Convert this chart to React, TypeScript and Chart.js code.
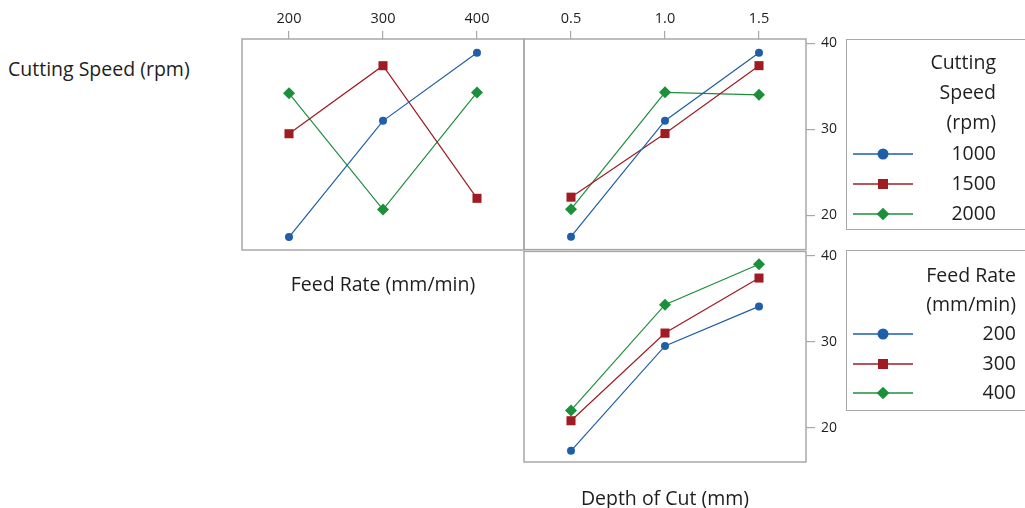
import React, { useEffect, useRef } from "react";
import { Chart, registerables } from "chart.js";
Chart.register(...registerables);

// x levels
const feedRates = [200, 300, 400];
const depths = [0.5, 1.0, 1.5];
const speedLabels = ["1000", "1500", "2000"];
const feedLabels = ["200", "300", "400"];
const yTicks = [20, 30, 40];

// mean response vs feed rate, per cutting speed
const feedSpeed1000 = [17.5, 31.0, 38.9];
const feedSpeed1500 = [29.5, 37.4, 22.0];
const feedSpeed2000 = [34.2, 20.7, 34.3];
// mean response vs depth of cut, per cutting speed
const depthSpeed1000 = [17.5, 31.0, 38.9];
const depthSpeed1500 = [22.1, 29.5, 37.4];
const depthSpeed2000 = [20.7, 34.3, 34.0];
// mean response vs depth of cut, per feed rate
const depthFeed200 = [17.3, 29.5, 34.1];
const depthFeed300 = [20.8, 31.0, 37.4];
const depthFeed400 = [22.0, 34.3, 39.0];

const COLORS = ["#1f5ea8", "#9f1c22", "#1c8f3b"];
const STYLES: any[] = ["circle", "rect", "rectRot"];
const RADII = [4, 6.4, 6];
const FONT = "'Open Sans', 'Noto Sans', sans-serif";
const BORDER = "#a8a8a8";
const TEXT = "#1e1e1e";

const boxPlugin = {
  id: "boxBorder",
  beforeDatasetsDraw(chart: any) {
    const { ctx, chartArea: a } = chart;
    ctx.save();
    ctx.strokeStyle = BORDER;
    ctx.lineWidth = 1.5;
    ctx.strokeRect(a.left, a.top, a.right - a.left, a.bottom - a.top);
    ctx.restore();
  },
};

type PanelProps = {
  left: number; top: number; width: number; height: number;
  padding: { left: number; right: number; top: number; bottom: number };
  xs: number[]; xMin: number; xMax: number; decimals: number;
  series: number[][]; labels: string[];
  showX: boolean; showY: boolean;
};

function Panel(p: PanelProps) {
  const ref = useRef<HTMLCanvasElement>(null);
  useEffect(() => {
    if (!ref.current) return;
    const chart = new Chart(ref.current, {
      type: "line",
      data: {
        datasets: p.series.map((s, i) => ({
          label: p.labels[i],
          data: s.map((v, j) => ({ x: p.xs[j], y: v })),
          borderColor: COLORS[i],
          backgroundColor: COLORS[i],
          borderWidth: 1.2,
          pointStyle: STYLES[i],
          pointRadius: RADII[i],
          pointBorderWidth: 0,
          tension: 0,
          clip: false as any,
        })),
      },
      options: {
        animation: false,
        responsive: false,
        maintainAspectRatio: false,
        layout: { padding: p.padding, autoPadding: false },
        plugins: { legend: { display: false }, tooltip: { enabled: false } },
        scales: {
          x: {
            type: "linear",
            position: "top",
            display: p.showX,
            min: p.xMin,
            max: p.xMax,
            afterBuildTicks: (s: any) => { s.ticks = p.xs.map((v) => ({ value: v })); },
            afterFit: (s: any) => { if (p.showX) s.height = 39 - p.padding.top; },
            grid: { drawOnChartArea: false, tickLength: 8, color: BORDER, lineWidth: 1.2 },
            border: { display: false },
            ticks: {
              color: TEXT,
              padding: 3,
              font: { family: FONT, size: 14.5 },
              callback: (v: any) => Number(v).toFixed(p.decimals),
            },
          },
          y: {
            type: "linear",
            position: "right",
            display: p.showY,
            min: 16,
            max: 40.5,
            afterBuildTicks: (s: any) => { s.ticks = yTicks.map((v) => ({ value: v })); },
            afterFit: (s: any) => { if (p.showY) s.width = 44; },
            grid: { drawOnChartArea: false, tickLength: 9, color: BORDER, lineWidth: 1.2 },
            border: { display: false },
            ticks: { color: TEXT, padding: 6, font: { family: FONT, size: 14 } },
          },
        },
      },
      plugins: [boxPlugin],
    });
    return () => chart.destroy();
  }, []);
  return (
    <canvas
      ref={ref}
      width={p.width}
      height={p.height}
      style={{ position: "absolute", left: p.left, top: p.top, width: p.width, height: p.height }}
    />
  );
}

function Marker({ i }: { i: number }) {
  const c = COLORS[i];
  return (
    <svg width={64} height={16} style={{ position: "absolute", left: 6, top: -8 }}>
      <line x1={0} y1={8} x2={60} y2={8} stroke={c} strokeWidth={1.4} />
      {i === 0 && <circle cx={30} cy={8} r={5.5} fill={c} />}
      {i === 1 && <rect x={25} y={3} width={10} height={10} fill={c} />}
      {i === 2 && <rect x={25.5} y={3.5} width={9} height={9} fill={c} transform="rotate(45 30 8)" />}
    </svg>
  );
}

function Legend({ top, height, title, labels, textRight, firstY, step }: any) {
  const rows: any[] = [];
  title.forEach((t: string) => rows.push({ text: t, marker: -1 }));
  labels.forEach((t: string, k: number) => rows.push({ text: t, marker: k }));
  return (
    <div
      style={{
        position: "absolute", left: 846, top, width: 200, height,
        border: `1.5px solid ${BORDER}`, boxSizing: "border-box",
      }}
    >
      {rows.map((r, idx) => {
        const cy = firstY + idx * step - top;
        return (
          <div key={idx} style={{ position: "absolute", left: 0, top: cy, width: 200 }}>
            {r.marker >= 0 && <Marker i={r.marker} />}
            <div
              style={{
                position: "absolute", left: 0, width: textRight - 846, top: -13,
                lineHeight: "24px", textAlign: "right", fontFamily: FONT, fontSize: 19.5, color: TEXT,
              }}
            >
              {r.text}
            </div>
          </div>
        );
      })}
    </div>
  );
}

const labelStyle: any = {
  position: "absolute", fontFamily: FONT, fontSize: 19.5, color: TEXT,
  lineHeight: "24px", whiteSpace: "nowrap",
};

export default function App() {
  return (
    <div style={{ position: "absolute", left: 0, top: 0, width: 1025, height: 508, overflow: "hidden", background: "#fff" }}>
      <Panel
        left={230} top={0} width={300} height={260}
        padding={{ left: 12, right: 6, top: 0, bottom: 10 }}
        xs={feedRates} xMin={150} xMax={450} decimals={0}
        series={[feedSpeed1000, feedSpeed1500, feedSpeed2000]} labels={speedLabels}
        showX={true} showY={false}
      />
      <Panel
        left={520} top={0} width={330} height={264}
        padding={{ left: 4, right: 0, top: 0, bottom: 14 }}
        xs={depths} xMin={0.25} xMax={1.75} decimals={1}
        series={[depthSpeed1000, depthSpeed1500, depthSpeed2000]} labels={speedLabels}
        showX={true} showY={true}
      />
      <Panel
        left={520} top={237} width={330} height={245}
        padding={{ left: 4, right: 0, top: 14, bottom: 20 }}
        xs={depths} xMin={0.25} xMax={1.75} decimals={1}
        series={[depthFeed200, depthFeed300, depthFeed400]} labels={feedLabels}
        showX={false} showY={true}
      />
      <div style={{ ...labelStyle, left: 8, top: 57 }}>Cutting Speed (rpm)</div>
      <div style={{ ...labelStyle, left: 233, width: 300, textAlign: "center", top: 271.5 }}>Feed Rate (mm/min)</div>
      <div style={{ ...labelStyle, left: 515, width: 300, textAlign: "center", top: 485.5 }}>Depth of Cut (mm)</div>
      <Legend top={39} height={191} title={["Cutting", "Speed", "(rpm)"]} labels={speedLabels} textRight={995} firstY={62} step={30.2} />
      <Legend top={250} height={161} title={["Feed Rate", "(mm/min)"]} labels={feedLabels} textRight={1015} firstY={275} step={29.2} />
    </div>
  );
}
